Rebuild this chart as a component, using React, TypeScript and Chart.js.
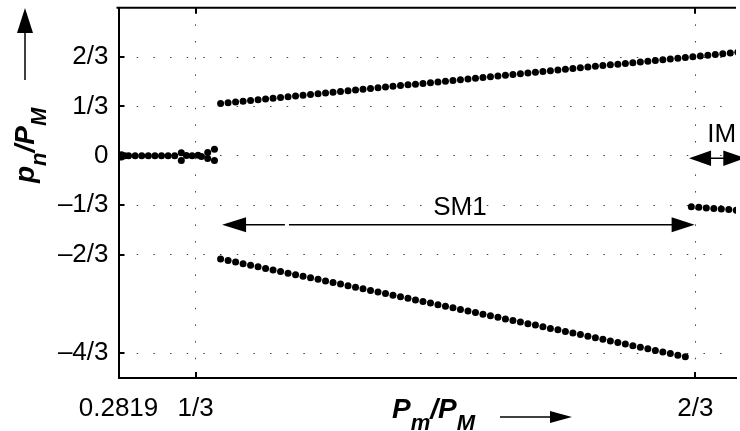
import React, { useEffect, useRef } from "react";
import { Chart, registerables } from "chart.js";

Chart.register(...registerables);

const FONT = '"Liberation Sans", Arial, Helvetica, sans-serif';

// ---- axes ----
const xRange = [0.2819, 0.6938];
const yRange = [-1.5, 1];
const xTickValues = [0.2819, 1 / 3, 2 / 3];
const xTickLabels = ["0.2819", "1/3", "2/3"];
const yTickValues = [-4 / 3, -2 / 3, -1 / 3, 0, 1 / 3, 2 / 3];
const yTickLabels = ["–4/3", "–2/3", "–1/3", "0", "1/3", "2/3"];

// ---- series ----
const zeroX = [0.2839, 0.2839, 0.2861, 0.2886, 0.293, 0.2974, 0.3018, 0.3062, 0.3106, 0.315, 0.3194, 0.3238, 0.3238, 0.3272, 0.331, 0.335, 0.3372, 0.3414, 0.3414, 0.3459, 0.3459];
const zeroY = [0.007, -0.008, 0, 0, 0, 0, 0, 0, 0, 0, 0, 0.02, -0.032, 0.002, 0.0, 0.004, -0.004, 0.022, -0.018, 0.044, -0.032];

const upperX = [0.35, 0.355, 0.36, 0.365, 0.37, 0.375, 0.38, 0.385, 0.39, 0.395, 0.4, 0.405, 0.41, 0.415, 0.42, 0.425, 0.43, 0.435, 0.44, 0.445, 0.45, 0.455, 0.46, 0.465, 0.47, 0.475, 0.48, 0.485, 0.49, 0.495, 0.5, 0.505, 0.51, 0.515, 0.52, 0.525, 0.53, 0.535, 0.54, 0.545, 0.55, 0.555, 0.56, 0.565, 0.57, 0.575, 0.58, 0.585, 0.59, 0.595, 0.6, 0.605, 0.61, 0.615, 0.62, 0.625, 0.63, 0.635, 0.64, 0.645, 0.65, 0.655, 0.66, 0.665, 0.67, 0.675, 0.68, 0.685, 0.69, 0.695];
const upperY = [0.354, 0.359, 0.364, 0.369, 0.374, 0.379, 0.384, 0.389, 0.394, 0.399, 0.404, 0.409, 0.414, 0.419, 0.424, 0.429, 0.434, 0.439, 0.444, 0.449, 0.454, 0.459, 0.464, 0.469, 0.474, 0.479, 0.484, 0.489, 0.494, 0.499, 0.504, 0.509, 0.514, 0.519, 0.524, 0.529, 0.534, 0.539, 0.544, 0.549, 0.554, 0.559, 0.564, 0.569, 0.574, 0.579, 0.584, 0.589, 0.594, 0.599, 0.604, 0.609, 0.614, 0.619, 0.624, 0.629, 0.634, 0.639, 0.644, 0.649, 0.654, 0.659, 0.664, 0.669, 0.674, 0.679, 0.684, 0.689, 0.694, 0.699];

const lowerX = [0.35, 0.355, 0.36, 0.365, 0.37, 0.375, 0.38, 0.385, 0.39, 0.395, 0.4, 0.405, 0.41, 0.415, 0.42, 0.425, 0.43, 0.435, 0.44, 0.445, 0.45, 0.455, 0.46, 0.465, 0.47, 0.475, 0.48, 0.485, 0.49, 0.495, 0.5, 0.505, 0.51, 0.515, 0.52, 0.525, 0.53, 0.535, 0.54, 0.545, 0.55, 0.555, 0.56, 0.565, 0.57, 0.575, 0.58, 0.585, 0.59, 0.595, 0.6, 0.605, 0.61, 0.615, 0.62, 0.625, 0.63, 0.635, 0.64, 0.645, 0.65, 0.655, 0.66];
const lowerY = [-0.696, -0.707, -0.717, -0.728, -0.739, -0.749, -0.76, -0.771, -0.781, -0.792, -0.803, -0.813, -0.824, -0.834, -0.845, -0.856, -0.866, -0.877, -0.888, -0.898, -0.909, -0.92, -0.93, -0.941, -0.952, -0.962, -0.973, -0.984, -0.994, -1.005, -1.016, -1.026, -1.037, -1.047, -1.058, -1.069, -1.079, -1.09, -1.101, -1.111, -1.122, -1.133, -1.143, -1.154, -1.165, -1.175, -1.186, -1.197, -1.207, -1.218, -1.229, -1.239, -1.25, -1.26, -1.271, -1.282, -1.292, -1.303, -1.314, -1.324, -1.335, -1.346, -1.356];

const imX = [0.664, 0.669, 0.674, 0.679, 0.684, 0.689, 0.694];
const imY = [-0.344, -0.348, -0.352, -0.356, -0.359, -0.363, -0.367];

// ---- annotations (data coordinates) ----
const sm1ArrowX = [0.351, 0.6662];
const sm1ArrowY = -0.466;
const sm1GapX = [0.3929, 0.3956];
const sm1Label = { text: "SM1", x: 0.5096, y: -0.402 };
const imArrowX = [0.6625, 0.7];
const imArrowY = -0.016;
const imLabel = { text: "IM", x: 0.6746, y: 0.0915 };

const toPts = (xs: number[], ys: number[]) => xs.map((x, i) => ({ x, y: ys[i] }));

function arrowHead(ctx: CanvasRenderingContext2D, tipX: number, tipY: number, dx: number, dy: number, len: number, half: number) {
  const bx = tipX - dx * len;
  const by = tipY - dy * len;
  const px = -dy;
  const py = dx;
  ctx.beginPath();
  ctx.moveTo(tipX, tipY);
  ctx.lineTo(bx + px * half, by + py * half);
  ctx.lineTo(bx - px * half, by - py * half);
  ctx.closePath();
  ctx.fill();
}

type Part = { t: string; sub: boolean };
function drawParts(ctx: CanvasRenderingContext2D, parts: Part[], x: number, y: number) {
  let cx = x;
  ctx.textAlign = "left";
  ctx.textBaseline = "alphabetic";
  for (const p of parts) {
    ctx.font = p.sub ? `italic bold 22px ${FONT}` : `italic bold 28px ${FONT}`;
    ctx.fillText(p.t, cx, y + (p.sub ? 12 : 0));
    cx += ctx.measureText(p.t).width;
  }
}

const decorPlugin = {
  id: "decor",
  afterDatasetsDraw(chart: any) {
    const { ctx, chartArea: ca } = chart;
    const xs = chart.scales.x;
    const ys = chart.scales.y;
    ctx.save();
    ctx.strokeStyle = "#000";
    ctx.fillStyle = "#000";

    // top frame line
    ctx.lineWidth = 2;
    ctx.beginPath();
    ctx.moveTo(ca.left - 2, ca.top);
    ctx.lineTo(ca.right, ca.top);
    ctx.stroke();

    // inward tick marks
    const tl = 6;
    ctx.lineWidth = 2;
    ctx.beginPath();
    yTickValues.forEach((v) => {
      const py = Math.round(ys.getPixelForValue(v));
      ctx.moveTo(ca.left, py);
      ctx.lineTo(ca.left + tl, py);
    });
    xTickValues.slice(1).forEach((v) => {
      const px = Math.round(xs.getPixelForValue(v));
      ctx.moveTo(px, ca.bottom);
      ctx.lineTo(px, ca.bottom - tl);
      ctx.moveTo(px, ca.top);
      ctx.lineTo(px, ca.top + tl);
    });
    ctx.stroke();

    // SM1 double arrow
    const sy = ys.getPixelForValue(sm1ArrowY);
    const sx1 = xs.getPixelForValue(sm1ArrowX[0]);
    const sx2 = xs.getPixelForValue(sm1ArrowX[1]);
    const g1 = xs.getPixelForValue(sm1GapX[0]);
    const g2 = xs.getPixelForValue(sm1GapX[1]);
    ctx.lineWidth = 1.5;
    ctx.beginPath();
    ctx.moveTo(sx1 + 10, sy);
    ctx.lineTo(g1, sy);
    ctx.moveTo(g2, sy);
    ctx.lineTo(sx2 - 10, sy);
    ctx.stroke();
    arrowHead(ctx, sx1, sy, -1, 0, 24, 7.5);
    arrowHead(ctx, sx2, sy, 1, 0, 23, 7.5);
    ctx.font = `26px ${FONT}`;
    ctx.textAlign = "center";
    ctx.textBaseline = "alphabetic";
    ctx.fillText(sm1Label.text, xs.getPixelForValue(sm1Label.x), ys.getPixelForValue(sm1Label.y));

    // IM double arrow
    const iy = ys.getPixelForValue(imArrowY);
    const ix1 = xs.getPixelForValue(imArrowX[0]);
    const ix2 = xs.getPixelForValue(imArrowX[1]);
    ctx.beginPath();
    ctx.moveTo(ix1 + 10, iy);
    ctx.lineTo(ix2 - 10, iy);
    ctx.stroke();
    arrowHead(ctx, ix1, iy, -1, 0, 22, 7.8);
    arrowHead(ctx, ix2, iy, 1, 0, 22, 7.8);
    ctx.textAlign = "left";
    ctx.fillText(imLabel.text, xs.getPixelForValue(imLabel.x), ys.getPixelForValue(imLabel.y));

    // y-axis title with arrow
    ctx.save();
    ctx.translate(34, 183);
    ctx.rotate(-Math.PI / 2);
    drawParts(ctx, [
      { t: "p", sub: false },
      { t: "n", sub: true },
      { t: "/P", sub: false },
      { t: "M", sub: true },
    ], 0, 0);
    ctx.restore();
    ctx.lineWidth = 1.5;
    ctx.beginPath();
    ctx.moveTo(25, 80);
    ctx.lineTo(25, 25);
    ctx.stroke();
    arrowHead(ctx, 25, 8, 0, -1, 25, 8);

    // x-axis title with arrow
    drawParts(ctx, [
      { t: "P", sub: false },
      { t: "m", sub: true },
      { t: "/P", sub: false },
      { t: "M", sub: true },
    ], 392, 418);
    ctx.lineWidth = 1.5;
    ctx.beginPath();
    ctx.moveTo(500, 417);
    ctx.lineTo(555, 417);
    ctx.stroke();
    arrowHead(ctx, 572, 417, 1, 0, 22, 6);

    ctx.restore();
  },
};

export default function App() {
  const ref = useRef<HTMLCanvasElement | null>(null);
  useEffect(() => {
    if (!ref.current) return;
    const pointStyle = {
      showLine: false,
      pointRadius: 3.5,
      pointBorderWidth: 0,
      pointBackgroundColor: "#000",
      backgroundColor: "#000",
      borderColor: "#000",
    };
    const chart = new Chart(ref.current, {
      type: "scatter",
      data: {
        datasets: [
          { label: "zero", data: toPts(zeroX, zeroY), ...pointStyle },
          { label: "upper", data: toPts(upperX, upperY), ...pointStyle },
          { label: "lower", data: toPts(lowerX, lowerY), ...pointStyle },
          { label: "im", data: toPts(imX, imY), ...pointStyle },
        ],
      },
      options: {
        animation: false,
        responsive: false,
        devicePixelRatio: 1,
        layout: { padding: { top: 7.7, left: 0, right: 0, bottom: 0 } },
        plugins: {
          legend: { display: false },
          tooltip: { enabled: false },
          title: { display: false },
        },
        scales: {
          x: {
            type: "linear",
            min: xRange[0],
            max: xRange[1],
            afterFit: (s: any) => {
              s.height = 53;
              s.paddingLeft = 0;
              s.paddingRight = 0;
            },
            afterBuildTicks: (s: any) => {
              s.ticks = xTickValues.map((v) => ({ value: v }));
            },
            ticks: {
              autoSkip: false,
              maxRotation: 0,
              minRotation: 0,
              padding: 15,
              color: "#000",
              font: { family: FONT, size: 26 },
              callback: (_v: any, i: number) => xTickLabels[i],
            },
            grid: { color: "#444", lineWidth: 1, drawTicks: false },
            border: { display: true, color: "#000", width: 2, dash: [1.5, 15.17] },
          },
          y: {
            type: "linear",
            min: yRange[0],
            max: yRange[1],
            afterFit: (s: any) => {
              s.width = 118.5;
              s.paddingTop = 0;
              s.paddingBottom = 0;
            },
            afterBuildTicks: (s: any) => {
              s.ticks = yTickValues.map((v) => ({ value: v }));
            },
            ticks: {
              autoSkip: false,
              padding: 10,
              color: "#000",
              font: { family: FONT, size: 26 },
              callback: (_v: any, i: number) => yTickLabels[i],
            },
            grid: { color: "#444", lineWidth: 1, drawTicks: false },
            border: { display: true, color: "#000", width: 2, dash: [1.5, 15.17] },
          },
        },
      },
      plugins: [decorPlugin],
    });
    return () => chart.destroy();
  }, []);
  return (
    <div style={{ position: "absolute", left: 0, top: 0, width: 740, height: 431, background: "#fff" }}>
      <canvas ref={ref} width={740} height={431} style={{ display: "block", width: 740, height: 431 }} />
    </div>
  );
}
